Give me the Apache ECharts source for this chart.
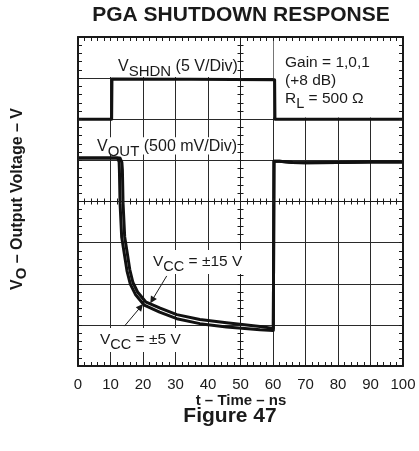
<!DOCTYPE html>
<html>
<head>
<meta charset="utf-8">
<script src="https://cdn.jsdelivr.net/npm/echarts@6/dist/echarts.min.js"></script>
<style>
  html, body { margin: 0; padding: 0; background: #fff; }
  #chart { width: 419px; height: 451px; }
</style>
</head>
<body>
<div id="chart"></div>
<script>
// Time axis (ns) and screen divisions (8 vertical divisions, no labels)
const timeMin = 0, timeMax = 100, timeStep = 10;
const divMin = 0, divMax = 8, divStep = 1;

// Shutdown control signal, in screen divisions (5 V/Div)
const vShdn = [[0, 6.0], [10.35, 6.0], [10.45, 6.98], [35, 6.97], [60.5, 6.96], [60.6, 6.0], [100, 6.0]];

// Output voltage, in screen divisions (500 mV/Div)
const vOutVcc5 = [
  [0, 5.06], [12.2, 5.06], [12.65, 4.96], [12.74, 4.77], [12.94, 3.96], [13.44, 3.135],
  [14.25, 2.73], [15.07, 2.315], [16.1, 1.99], [17.67, 1.74], [20.4, 1.478], [25.12, 1.312],
  [30.4, 1.15], [37.5, 1.03], [45.7, 0.95], [56, 0.88], [60.1, 0.865], [60.3, 4.98],
  [62, 4.98], [66, 4.95], [70, 4.94], [80, 4.95], [90, 4.96], [100, 4.96]
];
const vOutVcc15 = [
  [0, 5.06], [12.9, 5.06], [13.5, 4.95], [13.66, 4.77], [13.86, 3.96], [14.36, 3.145],
  [15.15, 2.75], [15.93, 2.345], [16.9, 2.03], [18.33, 1.80], [20.8, 1.562], [25.28, 1.408],
  [30.4, 1.25], [37.5, 1.13], [45.7, 1.05], [56, 0.96], [60.1, 0.915], [60.3, 4.98],
  [62, 4.98], [66, 4.95], [70, 4.94], [80, 4.95], [90, 4.96], [100, 4.96]
];

// Pointer lines from the supply labels to their traces
const arrowVcc15 = [[27.3, 2.19], [22.8, 1.6]];
const arrowVcc5 = [[14.3, 0.97], [19.3, 1.44]];

// Screen areas kept clear of graticule lines behind the annotation blocks
const clearAreas = [
  [[0, 7.03], [50, 8]],
  [[60.2, 6.04], [100, 8]],
  [[5.3, 5.14], [49.6, 5.56]]
];

const FONT = '"Liberation Sans", Arial, Helvetica, sans-serif';
const INK = '#1a1a1a';
const GRID = { left: 78, right: 16, top: 37, bottom: 85 };
const plotW = 419 - GRID.left - GRID.right;
const plotH = 451 - GRID.top - GRID.bottom;

function axisBase(dim, position) {
  return {
    type: 'value',
    position: position,
    min: dim === 'x' ? timeMin : divMin,
    max: dim === 'x' ? timeMax : divMax,
    interval: dim === 'x' ? timeStep : divStep,
    axisLabel: { show: false },
    splitLine: { show: false },
    minorSplitLine: { show: false }
  };
}

// Border of the screen with inward minor ticks
function frameAxis(dim, position, extra) {
  return Object.assign(axisBase(dim, position), {
    z: 5,
    axisLine: { show: true, onZero: false, lineStyle: { color: INK, width: 2 } },
    axisTick: { show: true, inside: true, length: 4, lineStyle: { color: INK, width: 1 } },
    minorTick: { show: true, splitNumber: 5, length: 4, lineStyle: { color: INK, width: 1 } }
  }, extra || {});
}

// Centre cross of the screen, ticked on both sides
function centerAxis(dim, inside) {
  return Object.assign(axisBase(dim, dim === 'x' ? 'bottom' : 'left'), {
    z: 5,
    offset: dim === 'x' ? -plotH / 2 : -plotW / 2,
    axisLine: { show: true, onZero: false, lineStyle: { color: INK, width: 1 } },
    axisTick: { show: true, inside: inside, length: 3, lineStyle: { color: INK, width: 1 } },
    minorTick: { show: true, splitNumber: 5, length: 3, lineStyle: { color: INK, width: 1 } }
  });
}

// Graticule lines only
function gridAxis(dim) {
  return Object.assign(axisBase(dim, dim === 'x' ? 'bottom' : 'left'), {
    z: 0,
    axisLine: { show: false },
    axisTick: { show: false },
    splitLine: { show: true, lineStyle: { color: '#2a2a2a', width: 1 } }
  });
}

const chart = echarts.init(document.getElementById('chart'), null, { renderer: 'canvas' });

const trace = (name, data, extra) => Object.assign({
  name: name,
  type: 'line',
  data: data,
  xAxisIndex: 0,
  yAxisIndex: 0,
  z: 3,
  showSymbol: false,
  symbol: 'none',
  silent: true,
  lineStyle: { color: '#111', width: 3, join: 'round', cap: 'butt' },
  animation: false
}, extra || {});

const pair = (pts) => [{ coord: pts[0] }, { coord: pts[1] }];

const subText = (x, y, str, size, boxed) => ({
  type: 'text', x: x, y: y, z: 10,
  style: {
    text: str, fill: INK, verticalAlign: 'middle',
    backgroundColor: boxed ? '#fff' : 'transparent', padding: [0, 2, 0, 2],
    rich: {
      m: { fontSize: size, fontFamily: FONT },
      s: { fontSize: size - 1, fontFamily: FONT, padding: [9, 0, 0, 0] }
    }
  }
});

chart.setOption({
  animation: false,
  backgroundColor: '#fff',
  grid: GRID,
  xAxis: [
    frameAxis('x', 'bottom', {
      axisLabel: { show: true, color: INK, fontSize: 15, fontFamily: FONT, margin: 11 }
    }),
    frameAxis('x', 'top'),
    centerAxis('x', true),
    centerAxis('x', false),
    gridAxis('x')
  ],
  yAxis: [
    frameAxis('y', 'left'),
    frameAxis('y', 'right'),
    centerAxis('y', true),
    centerAxis('y', false),
    gridAxis('y')
  ],
  series: [
    {
      type: 'line', data: [], z: 1, silent: true, animation: false,
      markArea: {
        silent: true, animation: false,
        itemStyle: { color: '#fff', opacity: 1 },
        data: clearAreas.map(pair)
      }
    },
    trace('VSHDN', vShdn),
    trace('VCC = ±15 V', vOutVcc15),
    trace('VCC = ±5 V', vOutVcc5, {
      markLine: {
        silent: true,
        animation: false,
        symbol: ['none', 'triangle'],
        symbolSize: 7,
        label: { show: false },
        lineStyle: { color: INK, width: 1, type: 'solid' },
        data: [pair(arrowVcc15), pair(arrowVcc5)]
      }
    })
  ],
  graphic: [
    {
      type: 'text', x: 241, y: 15,
      style: { text: 'PGA SHUTDOWN RESPONSE', font: 'bold 21px ' + FONT, fill: INK, align: 'center', verticalAlign: 'middle' }
    },
    subText(116, 67, '{m|V}{s|SHDN}{m| (5 V/Div)}', 16, false),
    subText(95, 147, '{m|V}{s|OUT}{m| (500 mV/Div)}', 16, false),
    {
      type: 'text', x: 285, y: 63, z: 10,
      style: { text: 'Gain = 1,0,1', font: '15.5px ' + FONT, fill: INK, verticalAlign: 'middle' }
    },
    {
      type: 'text', x: 285, y: 81, z: 10,
      style: { text: '(+8 dB)', font: '15.5px ' + FONT, fill: INK, verticalAlign: 'middle' }
    },
    subText(283, 99, '{m|R}{s|L}{m| = 500 Ω}', 15.5, false),
    subText(151, 262, '{m|V}{s|CC}{m| = ±15 V}', 15.5, true),
    subText(98, 340, '{m|V}{s|CC}{m| = ±5 V}', 15.5, true),
    {
      type: 'text', x: 241, y: 401,
      style: { text: 't – Time – ns', font: 'bold 15px ' + FONT, fill: INK, align: 'center', verticalAlign: 'middle' }
    },
    {
      type: 'text', x: 230, y: 416,
      style: { text: 'Figure 47', font: 'bold 21px ' + FONT, fill: INK, align: 'center', verticalAlign: 'middle' }
    },
    {
      type: 'text', x: 18, y: 199, rotation: Math.PI / 2,
      style: {
        text: '{m|V}{s|O}{m| – Output Voltage – V}', fill: INK, align: 'center', verticalAlign: 'middle',
        rich: {
          m: { fontSize: 16, fontWeight: 'bold', fontFamily: FONT },
          s: { fontSize: 15, fontWeight: 'bold', fontFamily: FONT, padding: [8, 0, 0, 0] }
        }
      }
    }
  ]
});
</script>
</body>
</html>
